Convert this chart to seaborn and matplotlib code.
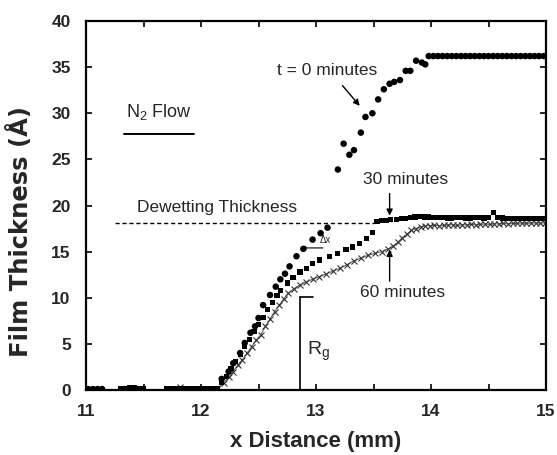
import numpy as np
import pandas as pd
import matplotlib
matplotlib.use("Agg")
import matplotlib.pyplot as plt
import seaborn as sns

# ---------------- data ----------------
# t = 0 minutes (filled circles)
x_t0 = [11.02, 11.06, 11.10, 11.14,
        12.18, 12.24, 12.28, 12.34, 12.38, 12.43, 12.47, 12.50, 12.54, 12.60,
        12.65, 12.69, 12.73, 12.77, 12.83, 12.89, 12.97, 13.04, 13.10,
        13.19, 13.24, 13.29, 13.33, 13.39, 13.43, 13.49, 13.54, 13.59, 13.64,
        13.68, 13.73, 13.78, 13.82, 13.87, 13.92, 13.95,
        13.98, 14.02, 14.06, 14.10, 14.14, 14.18, 14.22, 14.26, 14.30, 14.34,
        14.38, 14.42, 14.46, 14.50, 14.54, 14.58, 14.62, 14.66, 14.70, 14.74,
        14.78, 14.82, 14.86, 14.90, 14.94, 14.98]
y_t0 = [0.1, 0.1, 0.1, 0.1,
        1.2, 2.0, 2.9, 4.0, 5.1, 6.2, 6.9, 7.8, 9.2, 10.3,
        11.2, 12.0, 12.6, 13.4, 14.5, 15.3, 16.3, 17.0, 17.6,
        23.9, 26.7, 25.5, 26.0, 27.9, 29.6, 30.0, 31.5, 32.6, 33.2,
        33.4, 33.6, 34.6, 34.6, 35.7, 35.5, 35.3,
        36.2, 36.2, 36.2, 36.2, 36.2, 36.2, 36.2, 36.2, 36.2, 36.2,
        36.2, 36.2, 36.2, 36.2, 36.2, 36.2, 36.2, 36.2, 36.2, 36.2,
        36.2, 36.2, 36.2, 36.2, 36.2, 36.2]

# t = 30 minutes (filled squares)
x_t30 = [11.30, 11.34, 11.38, 11.42, 11.46, 11.50,
         11.70, 11.74, 11.78, 11.82, 11.86, 11.90, 11.94, 11.98, 12.02, 12.06, 12.10, 12.14,
         12.18, 12.22, 12.26, 12.30, 12.34, 12.38, 12.42, 12.46, 12.50, 12.54,
         12.58, 12.62, 12.66, 12.69, 12.75, 12.80, 12.86, 12.92, 12.97, 13.03,
         13.12, 13.19, 13.26, 13.32, 13.38, 13.44, 13.49,
         13.53, 13.57, 13.61, 13.65, 13.70, 13.74, 13.78, 13.82, 13.86, 13.90,
         13.94, 13.98, 14.02, 14.06, 14.10, 14.14, 14.18, 14.22, 14.26, 14.30,
         14.34, 14.38, 14.42, 14.46, 14.50, 14.54, 14.58, 14.62, 14.66, 14.70,
         14.74, 14.78, 14.82, 14.86, 14.90, 14.94, 14.98]
y_t30 = [0.2, 0.2, 0.25, 0.25, 0.2, 0.2,
         0.1, 0.1, 0.1, 0.15, 0.1, 0.1, 0.15, 0.1, 0.1, 0.1, 0.1, 0.2,
         0.8, 1.5, 2.3, 3.1, 3.9, 4.7, 5.5, 6.3, 7.1, 7.9,
         8.7, 9.5, 10.2, 10.8, 11.6, 12.2, 12.8, 13.2, 13.7, 14.1,
         14.5, 14.8, 15.2, 15.5, 15.9, 16.4, 17.1,
         18.3, 18.35, 18.4, 18.45, 18.5, 18.55, 18.6, 18.7, 18.75, 18.8,
         18.75, 18.75, 18.7, 18.7, 18.7, 18.65, 18.65, 18.7, 18.7, 18.65,
         18.65, 18.7, 18.7, 18.65, 18.7, 19.2, 18.7, 18.65, 18.6, 18.6,
         18.6, 18.55, 18.6, 18.6, 18.6, 18.6, 18.6]

# t = 60 minutes (crosses)
x_t60 = [11.74, 11.78, 11.82, 11.86, 11.90, 11.94, 11.98, 12.02, 12.06, 12.10, 12.14,
         12.20, 12.24, 12.28, 12.32, 12.36, 12.40, 12.44, 12.48, 12.52, 12.56,
         12.60, 12.64, 12.68, 12.72, 12.76, 12.81, 12.86, 12.91, 12.97, 13.03,
         13.09, 13.15, 13.21, 13.27, 13.33, 13.39, 13.45, 13.51, 13.57, 13.63,
         13.67, 13.71, 13.75, 13.79, 13.83, 13.87, 13.91,
         13.95, 13.99, 14.03, 14.07, 14.11, 14.15, 14.19, 14.23, 14.27, 14.31,
         14.35, 14.39, 14.43, 14.47, 14.51, 14.55, 14.59, 14.63, 14.67, 14.71,
         14.75, 14.79, 14.83, 14.87, 14.91, 14.95, 14.99]
y_t60 = [0.1, 0.1, 0.3, 0.1, 0.1, 0.1, 0.1, 0.1, 0.1, 0.1, 0.1,
         0.8, 1.4, 2.0, 2.7, 3.3, 4.0, 4.7, 5.4, 6.0, 6.9,
         7.7, 8.5, 9.2, 9.9, 10.5, 11.0, 11.4, 11.7, 12.0, 12.3,
         12.6, 12.9, 13.2, 13.6, 14.0, 14.3, 14.6, 14.8, 15.0, 15.3,
         15.6, 16.0, 16.5, 16.9, 17.3, 17.5, 17.7,
         17.8, 17.8, 17.85, 17.8, 17.85, 17.9, 17.9, 17.85, 17.9, 17.9,
         17.95, 17.9, 17.95, 18.0, 17.95, 18.0, 18.0, 18.05, 18.0, 18.05,
         18.05, 18.1, 18.05, 18.1, 18.1, 18.1, 18.1]

x_ticks = [11, 12, 13, 14, 15]
y_ticks = [0, 5, 10, 15, 20, 25, 30, 35, 40]
dewetting_level = 18.1
rg_x, rg_top = 12.86, 10.1

# ---------------- figure ----------------
sns.set_theme(style="ticks")
plt.rcParams['font.family'] = ['Liberation Sans', 'DejaVu Sans']
plt.rcParams['mathtext.fontset'] = 'custom'
plt.rcParams['mathtext.rm'] = 'Liberation Sans'
plt.rcParams['mathtext.it'] = 'Liberation Sans'

fig = plt.figure(figsize=(5.57, 4.55), dpi=100)
ax = fig.add_axes([0.1544, 0.1429, 0.8259, 0.8109])

df0 = pd.DataFrame({"x": x_t0, "y": y_t0})
df30 = pd.DataFrame({"x": x_t30, "y": y_t30})
df60 = pd.DataFrame({"x": x_t60, "y": y_t60})

sns.lineplot(data=df60, x="x", y="y", ax=ax, color="#555555", linewidth=0.7,
             marker="x", markersize=4.5, markeredgewidth=0.8, markeredgecolor="#333333",
             estimator=None, sort=False, zorder=2)
sns.scatterplot(data=df30, x="x", y="y", ax=ax, marker="s", s=14, color="black",
                edgecolor="none", zorder=3)
sns.scatterplot(data=df0, x="x", y="y", ax=ax, marker="o", s=22, color="black",
                edgecolor="none", zorder=4)

# dewetting line
ax.plot([11.25, 13.5], [dewetting_level, dewetting_level], color="black",
        linestyle=(0, (3, 2)), linewidth=1.0, zorder=1)
ax.text(11.44, 19.0, "Dewetting Thickness", fontsize=12.5, ha="left", va="bottom")

# R_g marker
ax.plot([rg_x, rg_x], [0, rg_top], color="black", linewidth=1.2)
ax.plot([rg_x, rg_x + 0.11], [rg_top, rg_top], color="black", linewidth=1.2)
ax.text(12.92, 4.2, "R$_g$", fontsize=14, ha="left", va="center")

# N2 flow
ax.text(11.63, 30.1, "N$_2$ Flow", fontsize=13, ha="center", va="center")
ax.plot([11.33, 11.94], [27.75, 27.75], color="black", linewidth=1.4)

arrow = dict(arrowstyle="-|>", color="black", lw=1.0, mutation_scale=9,
             shrinkA=0, shrinkB=0)
ax.text(13.1, 34.6, "t = 0 minutes", fontsize=12.5, ha="center", va="center")
ax.annotate("", xy=(13.38, 30.8), xytext=(13.23, 33.0), arrowprops=arrow)

ax.text(13.78, 22.8, "30 minutes", fontsize=12.5, ha="center", va="center")
ax.annotate("", xy=(13.64, 18.9), xytext=(13.64, 21.3), arrowprops=arrow)

ax.text(13.75, 10.6, "60 minutes", fontsize=12.5, ha="center", va="center")
ax.annotate("", xy=(13.64, 15.2), xytext=(13.64, 11.8), arrowprops=arrow)

# small delta-x marker
ax.annotate("", xy=(12.87, 15.4), xytext=(13.06, 15.4),
            arrowprops=dict(arrowstyle="-|>", color="black", lw=0.8, mutation_scale=6,
                            shrinkA=0, shrinkB=0))
ax.text(13.08, 16.3, "Δx", fontsize=7, ha="center", va="center")

# axes styling
ax.set_xlim(11, 15)
ax.set_ylim(0, 40)
ax.set_xticks(x_ticks)
ax.set_xticks([11.5, 12.5, 13.5, 14.5], minor=True)
ax.set_yticks(y_ticks)
ax.set_xticklabels([str(v) for v in x_ticks], fontsize=12.5, fontweight="bold")
ax.set_yticklabels([str(v) for v in y_ticks], fontsize=12.5, fontweight="bold")
ax.tick_params(axis="both", which="both", direction="in", top=True, right=True,
               length=4, width=1.2, color="black")
ax.tick_params(axis="x", which="both", pad=10)
ax.tick_params(axis="y", which="both", pad=11)
for sp in ax.spines.values():
    sp.set_linewidth(1.6)
    sp.set_color("black")

ax.set_xlabel("x Distance (mm)", fontsize=16, fontweight="bold")
ax.xaxis.set_label_coords(0.5, -0.112)
ax.set_ylabel("Film Thickness (Å)", fontsize=17.5, fontweight="bold",
              family="DejaVu Sans")
ax.yaxis.set_label_coords(-0.115, 0.43)

fig.savefig("out.png", dpi=100)
